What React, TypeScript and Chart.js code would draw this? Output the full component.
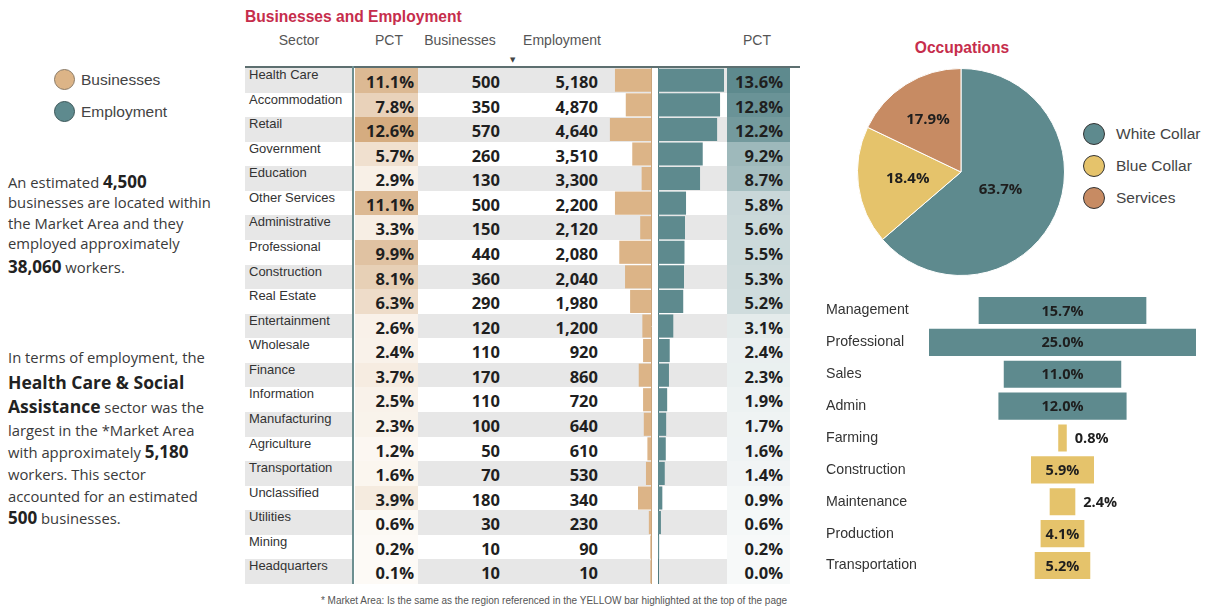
import React, { useEffect, useRef } from "react";
import { Chart, registerables } from "chart.js";

Chart.register(...registerables);

// ---------- DATA ----------
const sectors = [
  "Health Care", "Accommodation", "Retail", "Government", "Education", "Other Services",
  "Administrative", "Professional", "Construction", "Real Estate", "Entertainment",
  "Wholesale", "Finance", "Information", "Manufacturing", "Agriculture", "Transportation",
  "Unclassified", "Utilities", "Mining", "Headquarters",
];
const businessPct = [11.1, 7.8, 12.6, 5.7, 2.9, 11.1, 3.3, 9.9, 8.1, 6.3, 2.6, 2.4, 3.7, 2.5, 2.3, 1.2, 1.6, 3.9, 0.6, 0.2, 0.1];
const businesses = [500, 350, 570, 260, 130, 500, 150, 440, 360, 290, 120, 110, 170, 110, 100, 50, 70, 180, 30, 10, 10];
const employment = [5180, 4870, 4640, 3510, 3300, 2200, 2120, 2080, 2040, 1980, 1200, 920, 860, 720, 640, 610, 530, 340, 230, 90, 10];
const employmentPct = [13.6, 12.8, 12.2, 9.2, 8.7, 5.8, 5.6, 5.5, 5.3, 5.2, 3.1, 2.4, 2.3, 1.9, 1.7, 1.6, 1.4, 0.9, 0.6, 0.2, 0.0];

const occupationGroups = ["White Collar", "Blue Collar", "Services"];
const occupationGroupPct = [63.7, 18.4, 17.9];

const occupations = ["Management", "Professional", "Sales", "Admin", "Farming", "Construction", "Maintenance", "Production", "Transportation"];
const occupationPct = [15.7, 25.0, 11.0, 12.0, 0.8, 5.9, 2.4, 4.1, 5.2];
const occupationGroupOf = ["White Collar", "White Collar", "White Collar", "White Collar", "Blue Collar", "Blue Collar", "Blue Collar", "Blue Collar", "Blue Collar"];

const totalBusinesses = "4,500";
const totalWorkers = "38,060";

// ---------- STYLE ----------
const SANS = '"Liberation Sans", Arial, sans-serif';
const OPEN = '"Open Sans", sans-serif';
const TAN = "#dcb487";
const TEAL = "#5e8a8e";
const YELLOW = "#e5c36b";
const BROWN = "#c78b63";
const CRIMSON = "#c62d4c";
const groupColors: Record<string, string> = { "White Collar": TEAL, "Blue Collar": YELLOW, Services: BROWN };

const TAN_LOW = [253, 250, 246];
const TAN_HIGH = [213, 172, 128];
const TEAL_LOW = [247, 249, 249];
const TEAL_HIGH = [94, 138, 142];

function heat(lo: number[], hi: number[], t: number) {
  const tt = Math.pow(Math.max(0, Math.min(1, t)), 1.4);
  const c = lo.map((l, i) => Math.round(l + (hi[i] - l) * tt));
  return `rgb(${c[0]},${c[1]},${c[2]})`;
}

const TOP = 68;
const BOTTOM = 584;
const ROW_H = (BOTTOM - TOP) / sectors.length;

function abs(left: number, top: number, extra: React.CSSProperties = {}): React.CSSProperties {
  return { position: "absolute", left, top, ...extra };
}

function Line({ y, children, size = 14.8 }: { y: number; children: React.ReactNode; size?: number }) {
  return (
    <div style={abs(8, y - 12, { height: 24, lineHeight: "24px", fontFamily: OPEN, fontSize: size, color: "#3a3a3a", whiteSpace: "nowrap" })}>
      {children}
    </div>
  );
}
const B = ({ children, size = 17 }: { children: React.ReactNode; size?: number }) => (
  <b style={{ fontSize: size, color: "#222", fontWeight: 700 }}>{children}</b>
);

export default function App() {
  const bizRef = useRef<HTMLCanvasElement>(null);
  const empRef = useRef<HTMLCanvasElement>(null);
  const pieRef = useRef<HTMLCanvasElement>(null);
  const funRef = useRef<HTMLCanvasElement>(null);

  useEffect(() => {
    const charts: Chart[] = [];

    charts.push(
      new Chart(bizRef.current!, {
        type: "bar",
        data: {
          labels: sectors,
          datasets: [{ data: businesses, backgroundColor: TAN, barPercentage: 0.94, categoryPercentage: 1, borderWidth: 0 }],
        },
        options: {
          indexAxis: "y",
          animation: false,
          responsive: false,
          events: [],
          layout: { padding: { left: 0, right: 1, top: 0, bottom: 0 } },
          plugins: { legend: { display: false }, tooltip: { enabled: false } },
          scales: {
            x: { display: false, reverse: true, min: 0, max: 860 },
            y: {
              position: "right",
              grid: { display: false, drawTicks: false, tickLength: 0 },
              ticks: { display: false },
              border: { display: true, color: "#c9a57c", width: 1 },
            },
          },
        },
      })
    );

    charts.push(
      new Chart(empRef.current!, {
        type: "bar",
        data: {
          labels: sectors,
          datasets: [{ data: employment, backgroundColor: TEAL, barPercentage: 0.94, categoryPercentage: 1, borderWidth: 0 }],
        },
        options: {
          indexAxis: "y",
          animation: false,
          responsive: false,
          events: [],
          layout: { padding: { left: 2, right: 1, top: 0, bottom: 0 } },
          plugins: { legend: { display: false }, tooltip: { enabled: false } },
          scales: {
            x: { display: false, min: 0, max: 5415 },
            y: {
              position: "left",
              grid: { display: false, drawTicks: false, tickLength: 0 },
              ticks: { display: false },
              border: { display: true, color: "#4f7a7e", width: 1 },
            },
          },
        },
      })
    );

    const pieLabelFactor = [0.42, 0.52, 0.6];
    const pieLabels = {
      id: "pieLabels",
      afterDatasetsDraw(chart: any) {
        const ctx = chart.ctx;
        const meta = chart.getDatasetMeta(0);
        ctx.save();
        ctx.font = `bold 15px ${OPEN}`;
        ctx.fillStyle = "#1e1e1e";
        ctx.textAlign = "center";
        ctx.textBaseline = "middle";
        meta.data.forEach((arc: any, i: number) => {
          const { x, y, startAngle, endAngle, outerRadius } = arc.getProps(["x", "y", "startAngle", "endAngle", "outerRadius"], true);
          const mid = (startAngle + endAngle) / 2;
          const r = outerRadius * pieLabelFactor[i];
          ctx.fillText(occupationGroupPct[i].toFixed(1) + "%", x + Math.cos(mid) * r, y + Math.sin(mid) * r);
        });
        ctx.restore();
      },
    };

    charts.push(
      new Chart(pieRef.current!, {
        type: "pie",
        data: {
          labels: occupationGroups,
          datasets: [{
            data: occupationGroupPct,
            backgroundColor: occupationGroups.map((g) => groupColors[g]),
            borderColor: "#ffffff",
            borderWidth: 1,
          }],
        },
        options: {
          animation: false,
          responsive: false,
          events: [],
          layout: { padding: 2 },
          plugins: { legend: { display: false }, tooltip: { enabled: false } },
        },
        plugins: [pieLabels],
      })
    );

    const funnelLabels = {
      id: "funnelLabels",
      afterDatasetsDraw(chart: any) {
        const ctx = chart.ctx;
        const meta = chart.getDatasetMeta(0);
        ctx.save();
        ctx.font = `bold 14.5px ${OPEN}`;
        ctx.fillStyle = "#1e1e1e";
        ctx.textBaseline = "middle";
        meta.data.forEach((bar: any, i: number) => {
          const { x, base, y } = bar.getProps(["x", "base", "y"], true);
          const left = Math.min(x, base);
          const right = Math.max(x, base);
          const txt = occupationPct[i].toFixed(1) + "%";
          if (right - left > 40) {
            ctx.textAlign = "center";
            ctx.fillText(txt, (left + right) / 2, y + 1);
          } else {
            ctx.textAlign = "left";
            ctx.fillText(txt, right + 8, y + 1);
          }
        });
        ctx.restore();
      },
    };

    charts.push(
      new Chart(funRef.current!, {
        type: "bar",
        data: {
          labels: occupations,
          datasets: [{
            data: occupationPct.map((v) => [-v / 2, v / 2]) as any,
            backgroundColor: occupationGroupOf.map((g) => groupColors[g]),
            barPercentage: 0.85,
            categoryPercentage: 1,
            borderWidth: 0,
          }],
        },
        options: {
          indexAxis: "y",
          animation: false,
          responsive: false,
          events: [],
          layout: { padding: { left: 10, right: 10, top: 0, bottom: 0 } },
          plugins: { legend: { display: false }, tooltip: { enabled: false } },
          scales: {
            x: { display: false, min: -12.5, max: 12.5 },
            y: {
              grid: { display: false },
              border: { display: false },
              ticks: { crossAlign: "far", padding: 0, color: "#333", font: { family: SANS, size: 14.2 } },
              afterFit: (s: any) => { s.width = 103; },
            },
          },
        },
        plugins: [funnelLabels],
      })
    );

    return () => charts.forEach((c) => c.destroy());
  }, []);

  const bizMax = Math.max(...businessPct);
  const empMax = Math.max(...employmentPct);

  const numStyle = (left: number, right: number, top: number): React.CSSProperties => ({
    position: "absolute",
    left,
    width: right - left,
    top: top + 2,
    height: ROW_H,
    lineHeight: `${ROW_H}px`,
    textAlign: "right",
    fontFamily: OPEN,
    fontWeight: 700,
    fontSize: 16.5,
    color: "#1f1f1f",
    whiteSpace: "nowrap",
  });

  return (
    <div style={{ position: "fixed", left: 0, top: 0, width: 1209, height: 607, background: "#fff", overflow: "hidden" }}>
      {/* left legend */}
      <div style={abs(54, 69, { width: 21, height: 21, borderRadius: "50%", background: TAN, border: "1.5px solid #8a7a66", boxSizing: "border-box" })} />
      <div style={abs(81, 69, { fontFamily: SANS, fontSize: 15.5, color: "#444", lineHeight: "22px" })}>Businesses</div>
      <div style={abs(54, 101, { width: 21, height: 21, borderRadius: "50%", background: TEAL, border: "1.5px solid #3b5658", boxSizing: "border-box" })} />
      <div style={abs(81, 101, { fontFamily: SANS, fontSize: 15.5, color: "#444", lineHeight: "22px" })}>Employment</div>

      {/* left paragraphs */}
      <Line y={182}>An estimated <B>{totalBusinesses}</B></Line>
      <Line y={202}>businesses are located within</Line>
      <Line y={223}>the Market Area and they</Line>
      <Line y={243}>employed approximately</Line>
      <Line y={267}><B>{totalWorkers}</B> workers.</Line>

      <Line y={357}>In terms of employment, the</Line>
      <Line y={382}><B size={17.5}>Health Care &amp; Social</B></Line>
      <Line y={406}><B size={17.5}>Assistance</B> sector was the</Line>
      <Line y={430}>largest in the *Market Area</Line>
      <Line y={452}>with approximately <B>{employment[0].toLocaleString("en-US")}</B></Line>
      <Line y={474}>workers. This sector</Line>
      <Line y={496}>accounted for an estimated</Line>
      <Line y={518}><B>{businesses[0]}</B> businesses.</Line>

      {/* table title + header */}
      <div style={abs(245, 7, { fontFamily: SANS, fontWeight: 700, fontSize: 15.6, color: CRIMSON, lineHeight: "20px", whiteSpace: "nowrap" })}>Businesses and Employment</div>
      {[
        ["Sector", 299],
        ["PCT", 389],
        ["Businesses", 460],
        ["Employment", 562],
        ["PCT", 757],
      ].map(([t, cx], i) => (
        <div key={i} style={abs((cx as number) - 60, 30, { width: 120, textAlign: "center", fontFamily: SANS, fontSize: 14, color: "#555", lineHeight: "20px" })}>{t}</div>
      ))}
      <div style={abs(510, 55, { fontFamily: "DejaVu Sans", fontSize: 7, color: "#444", lineHeight: "10px" })}>▼</div>

      {/* rows */}
      {sectors.map((s, i) => {
        const top = TOP + i * ROW_H;
        const stripe = i % 2 === 0;
        return (
          <React.Fragment key={s}>
            {stripe && (
              <>
                <div style={abs(245, top, { width: 108, height: ROW_H, background: "#e7e7e7" })} />
                <div style={abs(418, top, { width: 233, height: ROW_H, background: "#e7e7e7" })} />
                <div style={abs(658, top, { width: 69, height: ROW_H, background: "#e7e7e7" })} />
              </>
            )}
            <div style={abs(355, top, { width: 63, height: ROW_H + 0.5, background: heat(TAN_LOW, TAN_HIGH, businessPct[i] / bizMax) })} />
            <div style={abs(727, top, { width: 63, height: ROW_H + 0.5, background: heat(TEAL_LOW, TEAL_HIGH, employmentPct[i] / empMax) })} />
            <div style={abs(249, top - 5, { height: ROW_H, lineHeight: `${ROW_H}px`, fontFamily: SANS, fontSize: 13, color: "#333", whiteSpace: "nowrap" })}>{s}</div>
            <div style={numStyle(355, 414, top)}>{businessPct[i].toFixed(1)}%</div>
            <div style={numStyle(420, 500, top)}>{businesses[i].toLocaleString("en-US")}</div>
            <div style={numStyle(510, 598, top)}>{employment[i].toLocaleString("en-US")}</div>
            <div style={numStyle(727, 783, top)}>{employmentPct[i].toFixed(1)}%</div>
          </React.Fragment>
        );
      })}
      <div style={abs(245, 66, { width: 555, height: 2, background: "#5d6f70" })} />
      <div style={abs(352, 66, { width: 2, height: BOTTOM - 66, background: "#6d8f90" })} />

      <canvas ref={bizRef} width={63} height={BOTTOM - TOP} style={abs(589, TOP, { width: 63, height: BOTTOM - TOP })} />
      <canvas ref={empRef} width={72} height={BOTTOM - TOP} style={abs(656, TOP, { width: 72, height: BOTTOM - TOP })} />

      <div style={abs(54, 594, { width: 1000, textAlign: "center", fontFamily: SANS, fontSize: 10, color: "#555", lineHeight: "14px", whiteSpace: "nowrap" })}>
        * Market Area: Is the same as the region referenced in the YELLOW bar highlighted at the top of the page
      </div>

      {/* Occupations pie */}
      <div style={abs(862, 38, { width: 200, textAlign: "center", fontFamily: SANS, fontWeight: 700, fontSize: 15.6, color: CRIMSON, lineHeight: "20px" })}>Occupations</div>
      <canvas ref={pieRef} width={212} height={212} style={abs(855, 66, { width: 212, height: 212 })} />
      {occupationGroups.map((g, i) => (
        <React.Fragment key={g}>
          <div style={abs(1083, 123 + i * 32, { width: 22, height: 22, borderRadius: "50%", background: groupColors[g], border: "1.5px solid #333", boxSizing: "border-box" })} />
          <div style={abs(1116, 123 + i * 32, { fontFamily: SANS, fontSize: 15.5, color: "#444", lineHeight: "22px", whiteSpace: "nowrap" })}>{g}</div>
        </React.Fragment>
      ))}

      {/* Occupations funnel */}
      <canvas ref={funRef} width={390} height={304} style={abs(816, 286, { width: 390, height: 304 })} />
    </div>
  );
}
